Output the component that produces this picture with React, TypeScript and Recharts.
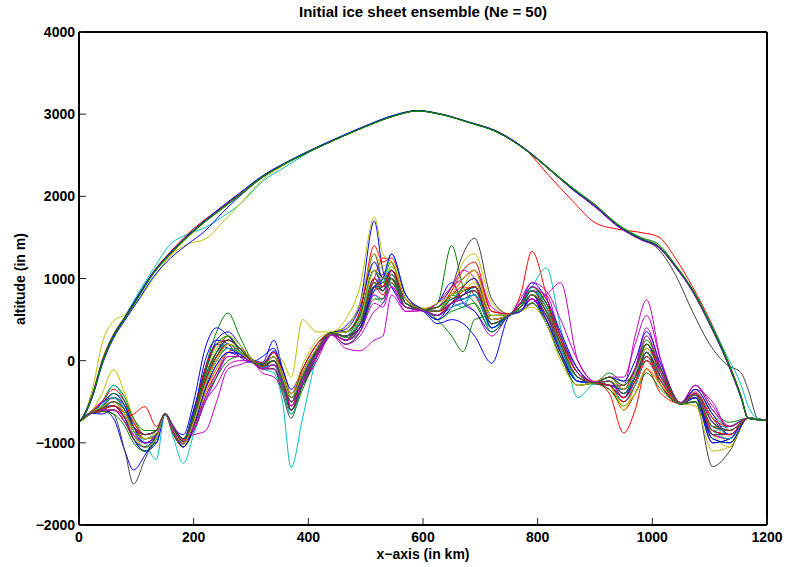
import { LineChart, Line, XAxis, YAxis } from 'recharts'

// sample positions (km) for the bed and surface profiles
const xsBed = [
  0, 20, 40, 60, 80, 95, 115, 135, 150, 165,
  182, 200, 220, 240, 260, 280, 300, 320, 340, 355,
  370, 390, 415, 440, 465, 490, 515, 530, 545, 570,
  600, 625, 650, 670, 690, 720, 750, 770, 790, 815,
  840, 870, 900, 925, 950, 970, 990, 1015, 1050, 1075,
  1105, 1135, 1167, 1200,
]
const xsSurf = [
  0, 10, 25, 40, 60, 80, 100, 130, 160, 190, 220, 250, 280, 320, 360, 400, 450, 500, 550,
  590, 630, 680, 730, 780, 820, 860, 900, 940, 980, 1010, 1040, 1070, 1100, 1130, 1155,
  1167, 1185, 1200,
]

const xTicks = [0, 200, 400, 600, 800, 1000, 1200]
const yTicks = [-2000, -1000, 0, 1000, 2000, 3000, 4000]

// bedrock altitude (m) per ensemble member
const bedB1 = [-750,-650,-600,-700,-1100,-1330,-1150,-900,-660,-820,-900,-500,150,400,300,150,20,-20,250,-100,-450,-300,50,320,420,700,1700,1100,900,650,610,500,650,900,1000,550,560,600,750,500,100,-250,-280,-300,-500,-300,0,-250,-520,-400,-700,-900,-700,-730]
const bedG1 = [-750,-630,-500,-300,-450,-700,-900,-850,-640,-800,-950,-700,-100,350,580,300,30,-80,-50,-300,-600,-300,100,340,280,400,900,950,1100,750,620,700,1400,900,700,400,550,700,850,700,300,-150,-260,-150,-250,-150,200,-100,-510,-300,-600,-750,-700,-730]
const bedR1 = [-750,-640,-620,-600,-700,-900,-1000,-900,-650,-900,-1050,-800,-400,-150,100,150,0,-100,0,-200,-600,-250,150,330,250,500,1000,1250,1200,750,630,550,800,1000,1100,600,570,800,1330,800,100,-300,-270,-400,-880,-600,-100,-300,-530,-450,-900,-950,-700,-730]
const bedC1 = [-750,-650,-550,-300,-500,-800,-1000,-1200,-660,-950,-1250,-900,-500,-200,100,80,-20,-100,-150,-500,-1300,-700,50,320,250,350,800,700,1000,700,610,600,700,650,900,500,550,700,900,1130,400,-450,-280,-300,-350,-100,100,-300,-520,-500,-800,-800,-700,-730]
const bedM1 = [-750,-620,-500,-450,-600,-750,-900,-850,-640,-820,-950,-900,-860,-500,-100,-50,-10,-150,-200,-350,-500,-300,0,310,150,120,250,300,800,600,610,550,650,700,600,300,550,600,700,800,950,0,-260,-300,-300,300,740,0,-520,-350,-500,-850,-700,-730]
const bedY1 = [-750,-640,-400,-110,-400,-700,-950,-950,-650,-900,-1050,-800,-350,50,200,150,40,-50,100,0,-200,500,350,350,500,900,1750,1300,1200,800,640,650,850,1200,1300,700,570,650,800,600,200,-150,-250,-200,-300,-100,300,-100,-520,-400,-700,-1000,-700,-730]
const bedK1 = [-750,-650,-600,-650,-1100,-1500,-1200,-900,-650,-850,-1000,-700,-250,100,300,120,0,-80,-100,-400,-700,-250,150,330,250,500,1100,1000,950,700,620,550,700,800,900,500,560,650,800,550,200,-200,-270,-300,-500,-300,100,-300,-520,-450,-1000,-950,-700,-730]
const bedB2 = [-750,-640,-650,-600,-750,-950,-1100,-950,-650,-880,-1020,-650,0,250,200,50,-20,50,150,-150,-450,-200,150,330,350,550,1100,900,1000,650,600,450,500,450,300,-30,540,600,700,500,150,-200,-270,-250,-400,-200,0,-200,-530,-500,-1000,-950,-700,-730]
const bedG2 = [-750,-640,-580,-500,-600,-800,-900,-850,-650,-860,-1000,-750,-300,0,200,120,0,-50,0,-200,-500,-200,100,330,300,550,900,1000,1200,700,620,500,300,110,500,550,560,650,850,700,300,-100,-270,-200,-350,-100,250,-100,-520,-350,-650,-800,-700,-730]
const bedR2 = [-750,-640,-620,-600,-700,-650,-560,-800,-650,-830,-960,-780,-350,-100,100,100,10,-50,50,-200,-500,-150,150,340,300,400,900,800,1000,650,620,650,800,900,800,450,560,650,750,500,100,-250,-270,-300,-600,-400,-100,-400,-520,-450,-800,-850,-700,-730]
const bedC2 = [-750,-640,-600,-500,-650,-900,-1050,-950,-650,-870,-980,-700,-200,100,200,100,0,-80,0,-250,-600,-250,100,330,300,500,1000,900,1150,750,620,600,800,850,900,400,560,650,900,650,250,-250,-280,-300,-500,-300,50,-300,-520,-400,-750,-900,-700,-730]
const bedM2 = [-750,-640,-560,-450,-550,-800,-900,-850,-640,-800,-950,-850,-500,-200,50,50,-10,-100,-50,-300,-600,-300,50,320,200,350,800,750,1100,700,610,650,900,1100,1000,500,560,700,850,800,300,-100,-260,-250,-450,-100,400,-100,-510,-300,-600,-800,-700,-730]
const bedY2 = [-750,-640,-600,-550,-700,-900,-1000,-900,-650,-880,-1020,-800,-400,-100,100,100,0,-40,50,-150,-450,-100,200,340,300,500,1200,1100,1000,700,630,600,700,900,1100,450,560,600,700,500,100,-200,-270,-300,-600,-300,0,-200,-520,-500,-900,-1050,-700,-730]
const bedK2 = [-750,-640,-570,-500,-650,-850,-950,-900,-650,-850,-1000,-750,-250,50,250,150,10,-50,0,-250,-550,-200,120,330,350,600,1300,1000,1000,700,620,700,900,1300,1490,750,570,650,800,600,150,-200,-270,-250,-400,-200,150,-150,-520,-400,-850,-900,-700,-730]
const bedB3 = [-750,-640,-560,-550,-700,-950,-1100,-1000,-650,-850,-1000,-600,-100,200,150,80,0,-60,100,-100,-400,-150,150,340,350,500,1000,850,1100,700,620,550,700,750,800,400,560,600,750,450,50,-250,-280,-300,-350,-150,200,-200,-520,-450,-850,-900,-700,-730]
const bedG3 = [-750,-630,-550,-450,-550,-800,-950,-900,-650,-860,-990,-720,-200,100,250,150,0,-70,50,-200,-500,-200,100,330,300,450,900,900,1000,650,620,600,800,750,800,450,560,680,850,650,250,-150,-270,-250,-350,-200,100,-200,-520,-400,-750,-850,-700,-730]
const bedR3 = [-750,-640,-600,-600,-750,-950,-1050,-950,-650,-900,-1050,-800,-300,0,150,100,0,-80,0,-300,-600,-300,100,330,250,400,950,900,1100,700,620,600,700,800,900,450,560,650,800,650,200,-200,-270,-350,-500,-300,0,-300,-520,-450,-800,-850,-700,-730]
const bedC3 = [-750,-640,-580,-500,-650,-850,-950,-850,-650,-850,-1000,-750,-300,50,200,120,0,-60,0,-200,-500,-250,100,330,300,450,900,1000,1050,700,620,650,750,850,850,400,560,650,800,600,150,-200,-270,-250,-400,-150,100,-200,-520,-420,-850,-800,-700,-730]
const bedM3 = [-750,-640,-600,-550,-700,-850,-950,-900,-650,-850,-1000,-750,-350,-50,100,50,0,-80,-50,-250,-550,-250,80,320,250,400,850,1050,1000,700,620,600,700,750,800,450,560,650,750,550,200,-200,-270,-250,-450,-250,50,-250,-520,-400,-900,-950,-700,-730]
const bedY3 = [-750,-640,-550,-450,-600,-800,-900,-850,-650,-850,-1000,-750,-300,0,150,100,0,-60,0,-200,-500,-200,150,330,300,450,950,900,1050,700,620,600,750,800,850,450,560,650,800,600,200,-200,-270,-250,-400,-200,100,-200,-520,-420,-800,-850,-700,-730]
const bedK3 = [-750,-640,-580,-550,-650,-850,-950,-900,-650,-850,-1000,-700,-250,50,200,100,0,-80,0,-300,-600,-250,100,330,250,400,900,850,1000,700,620,600,800,850,900,500,560,650,800,550,150,-250,-270,-300,-450,-250,50,-250,-520,-500,-1290,-1100,-700,-730]
const bedB4 = [-750,-640,-520,-400,-550,-800,-1000,-1000,-650,-820,-950,-600,-150,250,350,200,20,-40,120,-100,-350,-100,200,340,380,650,1200,1000,1100,750,630,700,950,700,600,350,560,700,950,750,350,-100,-270,-200,-250,0,350,-50,-510,-350,-650,-900,-700,-730]
const bedG4 = [-750,-640,-620,-650,-800,-1000,-1100,-950,-650,-900,-1050,-850,-450,-200,0,50,0,-100,-100,-350,-650,-350,50,320,200,350,750,750,950,650,610,500,600,650,700,350,555,620,700,450,50,-300,-280,-350,-550,-400,-150,-350,-530,-500,-950,-1000,-700,-730]
const bedR4 = [-750,-640,-500,-350,-500,-750,-900,-850,-650,-830,-980,-650,-100,200,250,150,10,-30,100,-150,-400,-100,200,340,350,600,1400,1200,1250,800,630,650,850,1100,1200,600,570,700,900,700,250,-150,-260,-200,-300,-100,200,-150,-520,-380,-700,-800,-700,-730]
const bedC4 = [-750,-640,-600,-600,-750,-900,-1050,-950,-650,-880,-1000,-700,-250,100,200,100,0,-80,-50,-300,-650,-300,100,330,300,500,1000,950,1300,800,620,550,650,700,800,400,560,650,850,650,150,-250,-270,-300,-450,-300,50,-250,-520,-450,-850,-950,-700,-730]
const bedM4 = [-750,-640,-560,-500,-650,-800,-900,-850,-650,-820,-980,-850,-500,-300,-50,0,0,-100,-50,-250,-500,-250,50,320,250,350,700,650,900,600,610,700,900,1000,1100,650,560,750,950,850,500,0,-260,-200,-200,200,550,0,-510,-300,-550,-800,-700,-730]
const bedY4 = [-750,-640,-580,-500,-650,-900,-1050,-950,-650,-870,-1000,-700,-200,150,300,200,20,-60,50,-150,-400,-50,250,350,400,700,1300,1150,1200,750,630,700,800,1000,1100,550,560,600,650,450,0,-300,-270,-300,-550,-400,-100,-300,-520,-550,-1100,-1050,-700,-730]
const bedK4 = [-750,-640,-600,-550,-700,-950,-1050,-900,-650,-860,-1000,-750,-300,0,150,100,0,-60,0,-250,-600,-300,100,330,300,450,850,900,1100,750,620,550,700,900,1000,500,560,650,850,600,200,-200,-270,-250,-400,-200,100,-200,-520,-450,-900,-900,-700,-730]
const bedB5 = [-750,-640,-560,-450,-600,-850,-1000,-900,-650,-850,-1050,-800,-350,-50,100,80,0,-50,50,-200,-450,-200,150,340,300,400,900,1000,1300,800,620,500,700,800,900,400,560,600,800,500,100,-250,-270,-300,-450,-200,100,-200,-520,-450,-950,-1000,-700,-730]
const bedG5 = [-750,-640,-560,-400,-500,-700,-850,-850,-650,-830,-950,-650,-150,200,300,150,0,-40,50,-200,-450,-150,150,340,350,550,1100,950,1000,700,620,650,800,850,900,450,560,700,900,700,300,-150,-270,-200,-300,-100,200,-100,-520,-400,-750,-850,-700,-730]
const bedR5 = [-750,-640,-600,-550,-650,-800,-950,-900,-650,-880,-1000,-750,-250,50,200,100,0,-70,0,-250,-550,-200,120,330,300,450,1000,900,1100,750,620,600,700,850,900,450,560,650,800,600,200,-200,-270,-300,-450,-250,50,-250,-520,-420,-850,-900,-700,-730]
const bedC5 = [-750,-640,-550,-450,-600,-850,-950,-900,-650,-850,-1000,-750,-300,0,150,100,0,-60,0,-250,-500,-200,130,330,300,450,950,850,1050,700,620,600,750,750,800,450,560,650,800,600,200,-200,-270,-250,-400,-200,100,-200,-520,-420,-800,-850,-700,-730]
const bedM5 = [-750,-640,-600,-600,-750,-900,-1000,-900,-650,-880,-1000,-800,-450,-150,50,50,-10,-100,-100,-300,-550,-250,80,320,200,300,600,700,900,650,610,550,700,800,850,500,560,700,900,750,300,-150,-260,-250,-350,-100,300,-150,-520,-400,-750,-850,-700,-730]
const bedY5 = [-750,-640,-560,-500,-650,-850,-950,-880,-650,-850,-1000,-750,-300,0,200,100,0,-60,50,-200,-450,-150,150,330,350,500,1100,1000,1150,750,620,600,800,850,950,500,560,650,800,600,200,-200,-270,-250,-350,-150,150,-200,-520,-420,-800,-850,-700,-730]
const bedK5 = [-750,-640,-580,-500,-600,-800,-900,-850,-650,-840,-980,-700,-200,100,250,150,0,-60,0,-250,-500,-200,130,330,300,450,950,850,1050,700,620,600,750,800,850,450,560,650,800,600,200,-200,-270,-250,-400,-200,100,-200,-520,-420,-800,-850,-700,-730]

// ice surface altitude (m) per ensemble member
const surfB1 = [-750,-640,-380,-20,310,530,760,1080,1320,1530,1710,1880,2040,2250,2410,2550,2710,2860,2990,3045,3005,2905,2790,2570,2340,2090,1880,1640,1480,1390,1150,850,450,0,-450,-700,-720,-730]
const surfG1 = [-750,-660,-400,-40,290,510,730,1060,1300,1510,1690,1850,2010,2230,2400,2540,2700,2850,2980,3040,3000,2900,2780,2560,2330,2100,1900,1650,1490,1400,1160,860,460,10,-440,-700,-720,-730]
const surfR1 = [-750,-640,-370,0,320,530,750,1070,1300,1520,1700,1860,2020,2240,2400,2540,2700,2850,2980,3040,3000,2900,2780,2560,2250,1950,1680,1600,1560,1510,1250,900,500,30,-430,-700,-720,-730]
const surfC1 = [-750,-650,-390,-30,300,540,780,1120,1420,1540,1620,1750,1900,2180,2360,2530,2700,2850,2980,3040,3000,2900,2780,2560,2330,2090,1880,1640,1480,1390,1150,850,450,0,-450,-700,-720,-730]
const surfM1 = [-750,-650,-400,-30,290,510,740,1070,1310,1520,1700,1860,2020,2240,2400,2540,2700,2850,2980,3040,3000,2900,2780,2560,2330,2090,1870,1630,1470,1380,1140,840,440,-10,-460,-700,-720,-730]
const surfY1 = [-750,-640,-300,200,480,560,700,1000,1280,1420,1480,1680,1900,2200,2390,2540,2700,2850,2980,3040,3000,2900,2780,2560,2330,2090,1880,1640,1480,1390,1150,850,450,0,-450,-700,-720,-730]
const surfK1 = [-750,-650,-390,-30,300,520,740,1070,1310,1520,1700,1860,2020,2240,2400,2540,2700,2850,2980,3040,3000,2900,2780,2560,2330,2090,1880,1640,1480,1360,1050,600,200,-50,-150,-350,-715,-730]
const surfC2 = [-750,-650,-390,-30,300,520,740,1070,1310,1520,1700,1860,2020,2240,2400,2540,2700,2850,2980,3040,3000,2900,2780,2560,2330,2090,1880,1640,1480,1390,1150,860,480,60,-300,-550,-710,-730]
const surfB2 = [-750,-660,-410,-60,270,490,700,1020,1250,1420,1580,1800,2000,2230,2400,2540,2700,2850,2980,3040,3000,2900,2780,2560,2330,2090,1880,1640,1480,1390,1150,850,450,0,-450,-700,-720,-730]
const surfG2 = [-750,-650,-390,-30,300,520,740,1070,1310,1520,1700,1860,2020,2240,2400,2540,2700,2850,2980,3040,3000,2900,2780,2560,2340,2110,1900,1660,1500,1420,1170,870,470,20,-440,-700,-720,-730]
const surfR2 = [-750,-645,-385,-25,305,525,750,1085,1330,1545,1720,1870,2030,2245,2405,2545,2705,2855,2985,3042,3002,2902,2785,2565,2335,2095,1885,1645,1485,1395,1155,855,455,5,-445,-700,-720,-730]
const surfM2 = [-750,-655,-395,-35,295,515,735,1065,1305,1510,1690,1855,2015,2235,2400,2540,2700,2850,2980,3040,3000,2900,2780,2560,2325,2085,1875,1635,1475,1385,1145,845,445,-5,-455,-700,-720,-730]
const surfY2 = [-750,-640,-380,-10,320,540,760,1060,1290,1500,1690,1850,2020,2240,2400,2540,2700,2850,2980,3040,3000,2900,2780,2560,2330,2090,1880,1640,1480,1390,1150,850,450,0,-450,-700,-720,-730]

const BLUE = '#0000ff'
const GREEN = '#008000'
const RED = '#ff0000'
const CYAN = '#00bfbf'
const MAGENTA = '#bf00bf'
const YELLOW = '#bfbf00'
const GRAY = '#404040'

const bedLines: [number[], string][] = [
  [bedB1, BLUE], [bedG1, GREEN], [bedR1, RED], [bedC1, CYAN], [bedM1, MAGENTA], [bedY1, YELLOW], [bedK1, GRAY],
  [bedB2, BLUE], [bedG2, GREEN], [bedR2, RED], [bedC2, CYAN], [bedM2, MAGENTA], [bedY2, YELLOW], [bedK2, GRAY],
  [bedB3, BLUE], [bedG3, GREEN], [bedR3, RED], [bedC3, CYAN], [bedM3, MAGENTA], [bedY3, YELLOW], [bedK3, GRAY],
  [bedB4, BLUE], [bedG4, GREEN], [bedR4, RED], [bedC4, CYAN], [bedM4, MAGENTA], [bedY4, YELLOW], [bedK4, GRAY],
  [bedB5, BLUE], [bedG5, GREEN], [bedR5, RED], [bedC5, CYAN], [bedM5, MAGENTA], [bedY5, YELLOW], [bedK5, GRAY],
]
const surfLines: [number[], string][] = [
  [surfR1, RED], [surfC1, CYAN], [surfM1, MAGENTA], [surfY1, YELLOW], [surfK1, GRAY],
  [surfC2, CYAN], [surfB2, BLUE], [surfR2, RED], [surfM2, MAGENTA], [surfY2, YELLOW],
  [surfB1, BLUE], [surfG1, GREEN], [surfG2, GREEN],
]

const FONT = '"Liberation Sans", Arial, Helvetica, sans-serif'
const fmt = (v: number) => String(v).replace('-', '\u2212')
const TICK = '#222'

const BottomTick = (p: any) => (
  <g>
    <line x1={p.x} x2={p.x} y1={p.y - 5} y2={p.y - 12} stroke={TICK} />
    <text x={p.x} y={p.y + 12} textAnchor="middle" fontSize={14} fontWeight="bold" fontFamily={FONT} fill="#000">
      {fmt(p.payload.value)}
    </text>
  </g>
)
const LeftTick = (p: any) => (
  <g>
    <line x1={p.x + 4} x2={p.x + 11} y1={p.y} y2={p.y} stroke={TICK} />
    <text x={p.x} y={p.y + 5} textAnchor="end" fontSize={14} fontWeight="bold" fontFamily={FONT} fill="#000">
      {fmt(p.payload.value)}
    </text>
  </g>
)
const TopTick = (p: any) => <line x1={p.x} x2={p.x} y1={p.y + 1} y2={p.y + 8} stroke={TICK} />
const RightTick = (p: any) => <line x1={p.x - 1} x2={p.x - 8} y1={p.y} y2={p.y} stroke={TICK} />

const toRows = (xs: number[], ys: number[]) => xs.map((x, i) => ({ x, y: ys[i] }))

export default function App() {
  const axisLine = { stroke: '#000', strokeWidth: 2 }
  return (
    <div style={{ position: 'absolute', left: 0, top: 0, width: 786, height: 567, background: '#fff', fontFamily: FONT }}>
      <LineChart width={786} height={567} margin={{ top: 31, right: 18, bottom: 0, left: 0 }}>
        <XAxis
          dataKey="x"
          type="number"
          domain={[0, 1200]}
          ticks={xTicks}
          interval={0}
          height={42}
          tickSize={0}
          tickMargin={5}
          axisLine={axisLine}
          tickLine={false}
          tick={<BottomTick />}
          allowDuplicatedCategory={false}
        />
        <XAxis
          xAxisId="top"
          orientation="top"
          dataKey="x"
          type="number"
          domain={[0, 1200]}
          ticks={xTicks}
          interval={0}
          height={1}
          tickSize={0}
          tickMargin={0}
          axisLine={axisLine}
          tickLine={false}
          tick={<TopTick />}
        />
        <YAxis
          type="number"
          domain={[-2000, 4000]}
          ticks={yTicks}
          interval={0}
          width={79}
          tickSize={0}
          tickMargin={4}
          axisLine={axisLine}
          tickLine={false}
          tick={<LeftTick />}
        />
        <YAxis
          yAxisId="right"
          orientation="right"
          type="number"
          domain={[-2000, 4000]}
          ticks={yTicks}
          interval={0}
          width={1}
          tickSize={0}
          tickMargin={0}
          axisLine={axisLine}
          tickLine={false}
          tick={<RightTick />}
        />
        {bedLines.map(([vals, color], i) => (
          <Line
            key={'bed' + i}
            data={toRows(xsBed, vals)}
            dataKey="y"
            type="monotone"
            stroke={color}
            strokeWidth={1}
            dot={false}
            activeDot={false}
            isAnimationActive={false}
          />
        ))}
        {surfLines.map(([vals, color], i) => (
          <Line
            key={'surf' + i}
            data={toRows(xsSurf, vals)}
            dataKey="y"
            type="monotone"
            stroke={color}
            strokeWidth={1}
            dot={false}
            activeDot={false}
            isAnimationActive={false}
          />
        ))}
      </LineChart>
      <div style={{ position: 'absolute', left: 79, width: 688, top: 4, lineHeight: '16px', textAlign: 'center', fontSize: 15, fontWeight: 'bold' }}>
        Initial ice sheet ensemble (Ne = 50)
      </div>
      <div style={{ position: 'absolute', left: 79, width: 688, top: 547, lineHeight: '14px', textAlign: 'center', fontSize: 14, fontWeight: 'bold' }}>
        x{'\u2212'}axis (in km)
      </div>
      <div
        style={{
          position: 'absolute',
          left: 20,
          top: 279,
          transform: 'translate(-50%, -50%) rotate(-90deg)',
          whiteSpace: 'nowrap',
          lineHeight: '14px',
          fontSize: 14,
          fontWeight: 'bold',
        }}
      >
        altitude (in m)
      </div>
    </div>
  )
}
